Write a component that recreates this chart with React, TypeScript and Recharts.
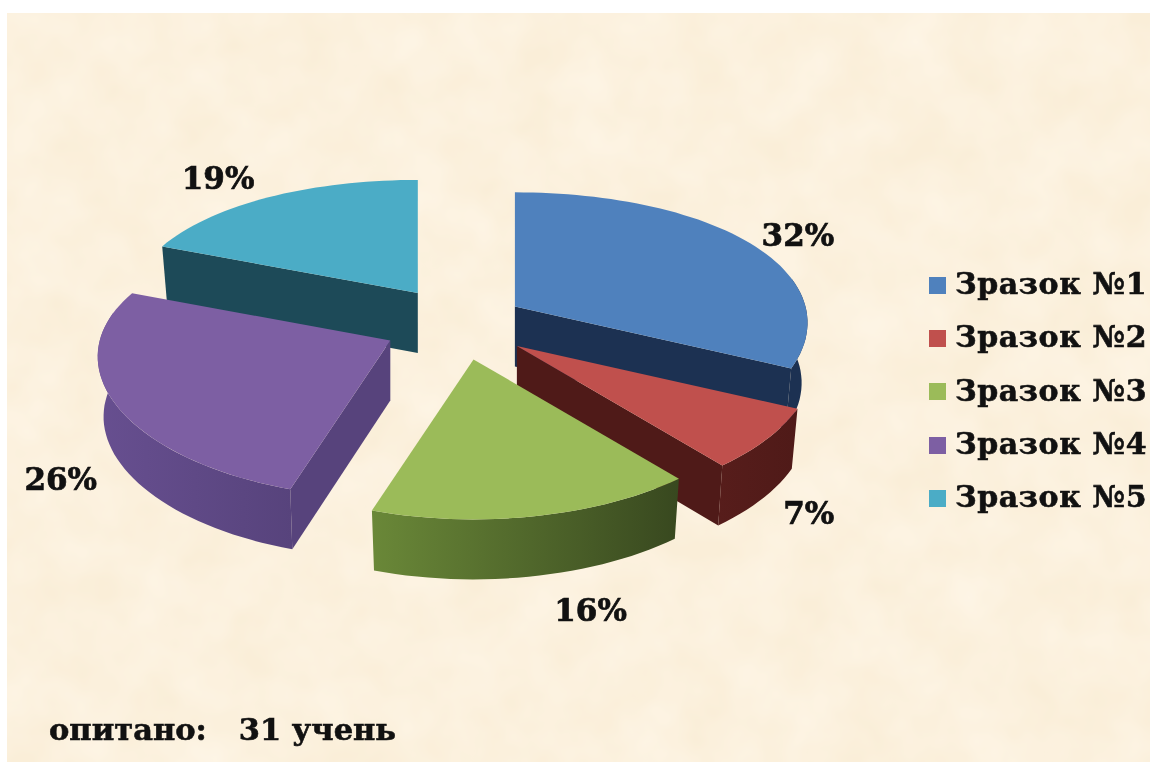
import React from 'react';
import { PieChart, Pie, Legend } from 'recharts';

const names = ['Зразок №1', 'Зразок №2', 'Зразок №3', 'Зразок №4', 'Зразок №5'];
const percents = [32, 7, 16, 26, 19];
const topColors = ['#4f81bd', '#c0504d', '#9bbb59', '#7d5fa3', '#4bacc6'];
const wallLeft = ['#1c3152', '#571d1b', '#6a8838', '#674f90', '#1d4a58'];
const wallRight = ['#1c3152', '#4f1a18', '#38481f', '#57437c', '#1d4a58'];
// how far each slice is pulled out of the pie, and its size against the pie radius
const explode = [65, 72, 72, 77, 75];
const sizeScale = [0.985, 1, 1, 0.985, 0.975];
const labelNudgeX = [15, 4, 46, -7, -28];
const labelNudgeY = [6, 0, 10, 6, -1];

const FONT = '"DejaVu Serif", serif';
const DEPTH = 60;
// the underside of the disc is further away, so it looks a bit narrower
const UNDER = 0.98;

// slices are drawn back to front, so the table starts with the last slice
const drawOrder = [4, 0, 1, 2, 3];
const tableData = drawOrder.map((i) => ({
  name: names[i],
  value: percents[i],
  fill: topColors[i],
  slice: i,
}));

const rad = (deg: number) => (deg * Math.PI) / 180;

// theta is clockwise from the top; fake perspective, the front of the disc is larger
const project = (theta: number, r: number, rx: number) => {
  const s = Math.sin(rad(theta));
  const c = -Math.cos(rad(theta));
  return {
    x: rx * (1 + 0.12 * c) * s * r,
    y: c * (138 + 22 * c) * r,
  };
};

const apexOf = (cx: number, cy: number, theta: number, slice: number) => ({
  x: cx + explode[slice] * Math.sin(rad(theta)),
  y: cy - explode[slice] * Math.cos(rad(theta)) * 0.5,
});

const arcPoints = (from: number, to: number, ax: number, ay: number, rx: number, scale: number) => {
  const pts: { x: number; y: number }[] = [];
  const steps = Math.max(2, Math.ceil(Math.abs(to - from) / 2));
  for (let k = 0; k <= steps; k++) {
    const p = project(from + ((to - from) * k) / steps, scale, rx);
    pts.push({ x: ax + p.x, y: ay + p.y });
  }
  return pts;
};

const toPath = (pts: { x: number; y: number }[]) =>
  'M' + pts.map((p) => `${p.x.toFixed(1)},${p.y.toFixed(1)}`).join('L') + 'Z';

const Slice3D = (props: any) => {
  const { cx, cy, outerRadius, startAngle, endAngle, fill, payload } = props;
  const slice = payload.slice;
  let t0 = 90 - startAngle;
  let t1 = 90 - endAngle;
  while (t0 < 0) {
    t0 += 360;
    t1 += 360;
  }
  const mid = (t0 + t1) / 2;
  const apex = apexOf(cx, cy, mid, slice);
  const scale = sizeScale[slice];
  const arc = arcPoints(t0, t1, apex.x, apex.y, outerRadius, scale);
  const gradId = `wall-${slice}`;
  const walls: React.ReactNode[] = [];
  const down = (p: { x: number; y: number }) => ({ x: apex.x + (p.x - apex.x) * UNDER, y: p.y + DEPTH });

  if (Math.sin(rad(t0)) < 0) {
    const a = arc[0];
    walls.push(<path key="s" d={toPath([apex, a, down(a), down(apex)])} fill={wallRight[slice]} />);
  }
  if (Math.sin(rad(t1)) > 0) {
    const a = arc[arc.length - 1];
    walls.push(<path key="e" d={toPath([apex, a, down(a), down(apex)])} fill={wallRight[slice]} />);
  }
  // outer wall runs a little past the sides, the perspective moves the widest point back
  const f0 = Math.max(t0, 78);
  const f1 = Math.min(t1, 282);
  if (f1 > f0) {
    const front = arcPoints(f0, f1, apex.x, apex.y, outerRadius, scale);
    walls.push(<path key="o" d={toPath([...front, ...front.map(down).reverse()])} fill={`url(#${gradId})`} />);
  }

  return (
    <g>
      <defs>
        <linearGradient id={gradId} x1="0" y1="0" x2="1" y2="0">
          <stop offset="0%" stopColor={wallLeft[slice]} />
          <stop offset="100%" stopColor={wallRight[slice]} />
        </linearGradient>
      </defs>
      {walls}
      <path d={toPath([apex, ...arc])} fill={fill} />
    </g>
  );
};

const renderLabel = (props: any) => {
  const { cx, cy, midAngle, payload, outerRadius } = props;
  const slice = payload.slice;
  const theta = 90 - midAngle;
  const apex = apexOf(cx, cy, theta, slice);
  const p = project(theta, 1.15, outerRadius);
  const front = -Math.cos(rad(theta)) > 0 ? DEPTH : 0;
  return (
    <text
      x={apex.x + p.x + labelNudgeX[slice]}
      y={apex.y + p.y + front + labelNudgeY[slice]}
      textAnchor="middle"
      dominantBaseline="central"
      fontFamily={FONT}
      fontWeight="bold"
      fontSize={31}
      fill="#111"
      stroke="#111"
      strokeWidth={0.7}
      style={{ filter: 'blur(0.5px)' }}
    >
      {payload.value}%
    </text>
  );
};

export default function App() {
  return (
    <div style={{ position: 'absolute', left: 0, top: 0, width: 1150, height: 762, background: '#fff', overflow: 'hidden' }}>
      <svg width={1143} height={749} style={{ position: 'absolute', left: 7, top: 13 }}>
        <filter id="paper" x="0" y="0" width="100%" height="100%" colorInterpolationFilters="sRGB">
          <feTurbulence type="fractalNoise" baseFrequency="0.018" numOctaves={3} seed={7} />
          <feColorMatrix values="0 0 0 0 1  0 0 0 0 0.97  0 0 0 0 0.92  1 0 0 0 -0.2" />
        </filter>
        <rect width={1143} height={749} fill="#faeed8" />
        <rect width={1143} height={749} filter="url(#paper)" />
      </svg>
      <div style={{ position: 'absolute', left: 0, top: 0 }}>
        <PieChart width={1150} height={762} margin={{ top: 0, right: 0, bottom: 0, left: 0 }}>
          <Pie
            data={tableData}
            dataKey="value"
            nameKey="name"
            cx={460}
            cy={324}
            innerRadius={0}
            outerRadius={295}
            startAngle={158.4}
            endAngle={-201.6}
            paddingAngle={0}
            stroke="none"
            isAnimationActive={false}
            shape={Slice3D}
            label={renderLabel}
            labelLine={false}
          />
          <Legend
            layout="vertical"
            align="right"
            verticalAlign="top"
            iconType="square"
            iconSize={17}
            itemSorter="value"
            wrapperStyle={{ position: 'absolute', left: 929, top: 252, width: 221, margin: 0, padding: 0, whiteSpace: 'nowrap' }}
            formatter={(value: string) => (
              <span
                style={{
                  fontFamily: FONT,
                  fontWeight: 'bold',
                  fontSize: 30,
                  letterSpacing: 0.6,
                  color: '#111',
                  lineHeight: '53.3px',
                  marginLeft: 5,
                  position: 'relative',
                  top: 5,
                  filter: 'blur(0.4px)',
                  display: 'inline-block',
                  WebkitTextStroke: '0.6px #111',
                }}
              >
                {value}
              </span>
            )}
          />
        </PieChart>
      </div>
      <div
        style={{
          position: 'absolute',
          left: 49,
          top: 711,
          fontFamily: FONT,
          fontWeight: 'bold',
          fontSize: 30.5,
          color: '#111',
          whiteSpace: 'pre',
          filter: 'blur(0.5px)',
          WebkitTextStroke: '0.6px #111',
        }}
      >
        опитано:   31 учень
      </div>
    </div>
  );
}
